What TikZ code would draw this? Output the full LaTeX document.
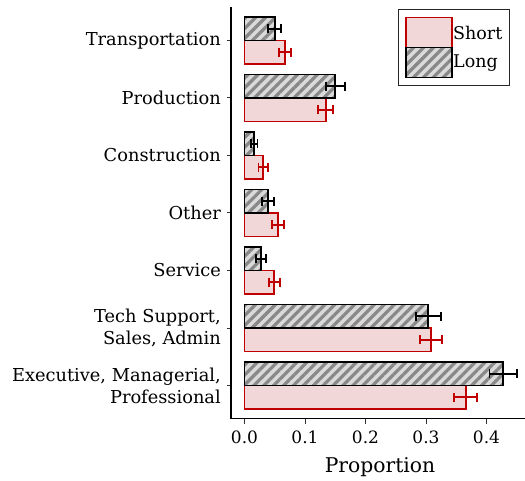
\documentclass[tikz,border=0pt]{standalone}
\usepackage{fontspec}
\setmainfont{DejaVu Serif}
\usetikzlibrary{patterns.meta}
\definecolor{shortred}{HTML}{C00000}
\definecolor{shortfill}{HTML}{F2D7D8}
\definecolor{hatchbg}{HTML}{DADADA}
\definecolor{hatchfg}{HTML}{888888}
\tikzset{
  longbar/.style={preaction={fill=hatchbg},
    preaction={pattern={Lines[angle=45,distance=7pt,line width=3.2pt]},pattern color=hatchfg},
    draw=black, line width=1.9pt},
  shortbar/.style={fill=shortfill, draw=shortred, line width=1.9pt},
  errL/.style={draw=black, line width=1.9pt},
  errS/.style={draw=shortred, line width=1.9pt},
  axisline/.style={draw=black, line width=1.4pt},
  tickline/.style={draw=black!80, line width=1pt},
  cat/.style={anchor=east, align=right, font=\fontsize{17.8}{22}\selectfont, inner sep=0pt},
  ticklab/.style={anchor=center, font=\fontsize{17}{19}\selectfont, inner sep=0pt},
  titlelab/.style={anchor=center, font=\fontsize{20.3}{23}\selectfont, inner sep=0pt},
  legtext/.style={anchor=west, font=\fontsize{17.5}{19}\selectfont, inner sep=0pt},
}
\newcommand\mybars[5]{%
  \pgfmathsetmacro\cc{40.5+57.5*#1}%
  \pgfmathsetmacro\ys{\cc+11.75}%
  \pgfmathsetmacro\yl{\cc-11.75}%
  \pgfmathsetmacro\xs{244.5+605*#4}%
  \pgfmathsetmacro\xl{244.5+605*#2}%
  \pgfmathsetmacro\sa{244.5+605*(#4-#5)}%
  \pgfmathsetmacro\sb{244.5+605*(#4+#5)}%
  \pgfmathsetmacro\la{244.5+605*(#2-#3)}%
  \pgfmathsetmacro\lb{244.5+605*(#2+#3)}%
  \path[shortbar] (244.5,\cc) rectangle (\xs,\cc+23.5);
  \path[longbar] (244.5,\cc-23.5) rectangle (\xl,\cc);
  \draw[errS] (\sa,\ys) -- (\sb,\ys) (\sa,\ys-4.5) -- (\sa,\ys+4.5) (\sb,\ys-4.5) -- (\sb,\ys+4.5);
  \draw[errL] (\la,\yl) -- (\lb,\yl) (\la,\yl-4.5) -- (\la,\yl+4.5) (\lb,\yl-4.5) -- (\lb,\yl+4.5);
  \draw[tickline] (226.5,\cc) -- (231,\cc);
}
\begin{document}
\begin{tikzpicture}[x=1pt,y=-1pt]
\useasboundingbox (0,0) rectangle (525,481);
% bars
\mybars{0}{0.050}{0.011}{0.067}{0.010}
\mybars{1}{0.150}{0.016}{0.134}{0.013}
\mybars{2}{0.016}{0.0055}{0.031}{0.0078}
\mybars{3}{0.039}{0.010}{0.056}{0.010}
\mybars{4}{0.027}{0.008}{0.049}{0.009}
\mybars{5}{0.304}{0.021}{0.308}{0.018}
\mybars{6}{0.428}{0.023}{0.366}{0.019}
% axes
\draw[axisline] (231,7) -- (231,418.5) -- (525,418.5);
\foreach \v/\t in {0/0.0,0.1/0.1,0.2/0.2,0.3/0.3,0.4/0.4}{
  \draw[tickline] ({244.5+605*\v},418.5) -- ({244.5+605*\v},423.5);
  \node[ticklab] (tick\t) at ({244.5+605*\v},437) {\t};
}
\node[titlelab] (xtitle) at (380,467) {Proportion};
% category labels
\node[cat] (c0) at (221,40.5) {Transportation};
\node[cat] (c1) at (221,98) {Production};
\node[cat] (c2) at (221,155.5) {Construction};
\node[cat] (c3) at (221,213) {Other};
\node[cat] (c4) at (221,270.5) {Service};
\node[cat] (c5) at (221,328) {Tech Support,\hspace{0.35em}\\Sales, Admin};
\node[cat] (c6) at (221,385.5) {Executive, Managerial,\\Professional};
% legend
\draw[draw=black!85, line width=1pt] (398,10) rectangle (509,86);
\path[shortbar, line width=1.2pt] (406,17.5) rectangle (452,47.5);
\path[longbar, line width=1.2pt] (406,47.5) rectangle (452,77.5);
\node[legtext] (lshort) at (453,33) {Short};
\node[legtext] (llong) at (453,63) {Long};
\end{tikzpicture}
\end{document}
